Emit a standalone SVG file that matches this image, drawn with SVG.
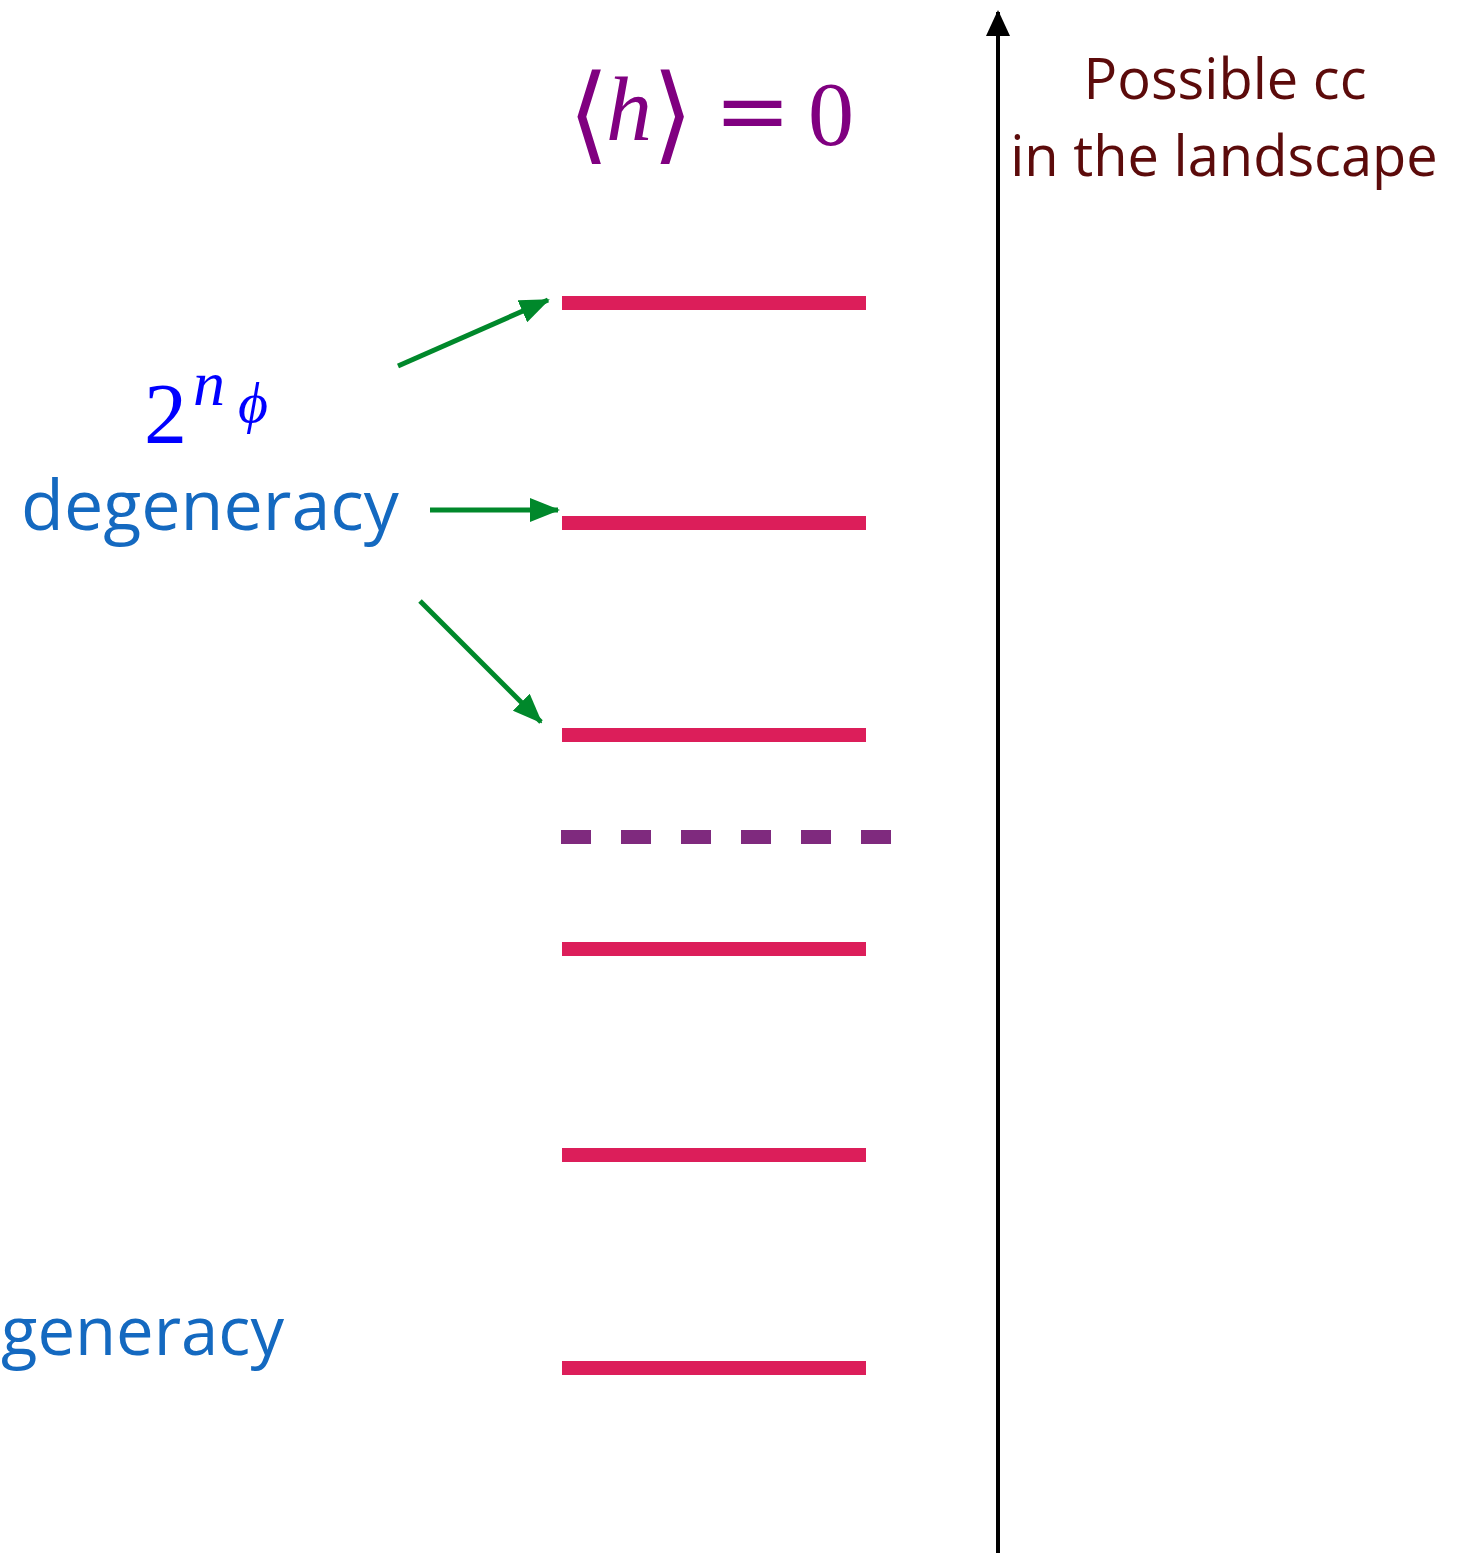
<svg xmlns="http://www.w3.org/2000/svg" width="1460" height="1553" viewBox="0 0 1460 1553">
<style>
.lvl{stroke:#dc1e5a;stroke-width:14;fill:none}
.grn{stroke:#00882b;stroke-width:5;fill:none}
.sans{font-family:"Open Sans","Noto Sans",sans-serif}
.math{font-family:"DejaVu Serif","Liberation Serif",serif}
</style>
<defs>
<marker id="ga" markerUnits="userSpaceOnUse" markerWidth="30" markerHeight="24" refX="28" refY="12" orient="auto"><path d="M0,0 L30,12 L0,24 Z" fill="#00882b"/></marker>
<marker id="ka" markerUnits="userSpaceOnUse" markerWidth="26" markerHeight="24" refX="24" refY="12" orient="auto"><path d="M0,0 L26,12 L0,24 Z" fill="#000"/></marker>
</defs>
<rect width="1460" height="1553" fill="#fff"/>
<g id="levels">
<line class="lvl" x1="562" y1="303" x2="866" y2="303"/>
<line class="lvl" x1="562" y1="523" x2="866" y2="523"/>
<line class="lvl" x1="562" y1="735" x2="866" y2="735"/>
<line x1="561" y1="837" x2="891" y2="837" stroke="#7f2a7e" stroke-width="14" stroke-dasharray="30 30"/>
<line class="lvl" x1="562" y1="949" x2="866" y2="949"/>
<line class="lvl" x1="562" y1="1155" x2="866" y2="1155"/>
<line class="lvl" x1="562" y1="1368" x2="866" y2="1368"/>
</g>
<g id="axis">
<line x1="998" y1="1553" x2="998" y2="12" stroke="#000" stroke-width="4" marker-end="url(#ka)"/>
</g>
<g id="connectors">
<line class="grn" x1="398" y1="366" x2="548" y2="300" marker-end="url(#ga)"/>
<line class="grn" x1="430" y1="510" x2="558" y2="510" marker-end="url(#ga)"/>
<line class="grn" x1="420" y1="601" x2="541" y2="722" marker-end="url(#ga)"/>
</g>
<g id="axis-label" class="sans" fill="#5c0b0b" font-size="56">
<text x="1225" y="99" text-anchor="middle">Possible cc</text>
<text x="1224" y="176" text-anchor="middle">in the landscape</text>
</g>
<g id="vev" class="math" fill="#800080">
<text x="568" y="150" font-size="106">⟨</text>
<text x="606" y="140" font-size="92" font-style="italic" font-family="Liberation Serif, serif">h</text>
<text x="652" y="150" font-size="106">⟩</text>
<text x="714" y="142" font-size="92">=</text>
<text x="808" y="145" font-size="92" font-family="Liberation Serif, serif">0</text>
</g>
<g id="degeneracy-top" fill="#0000ff" font-family="Liberation Serif, serif">
<text x="144" y="443" font-size="86">2</text>
<text x="193" y="405" font-size="64" font-style="italic">n</text>
<text x="238" y="422" font-size="58" font-style="italic">ϕ</text>
<text class="sans" x="210" y="530" font-size="70" fill="#1469c0" text-anchor="middle">degeneracy</text>
</g>
<g id="degeneracy-bottom">
<text class="sans" x="1" y="1355" font-size="67" fill="#1469c0">generacy</text>
</g>
</svg>
